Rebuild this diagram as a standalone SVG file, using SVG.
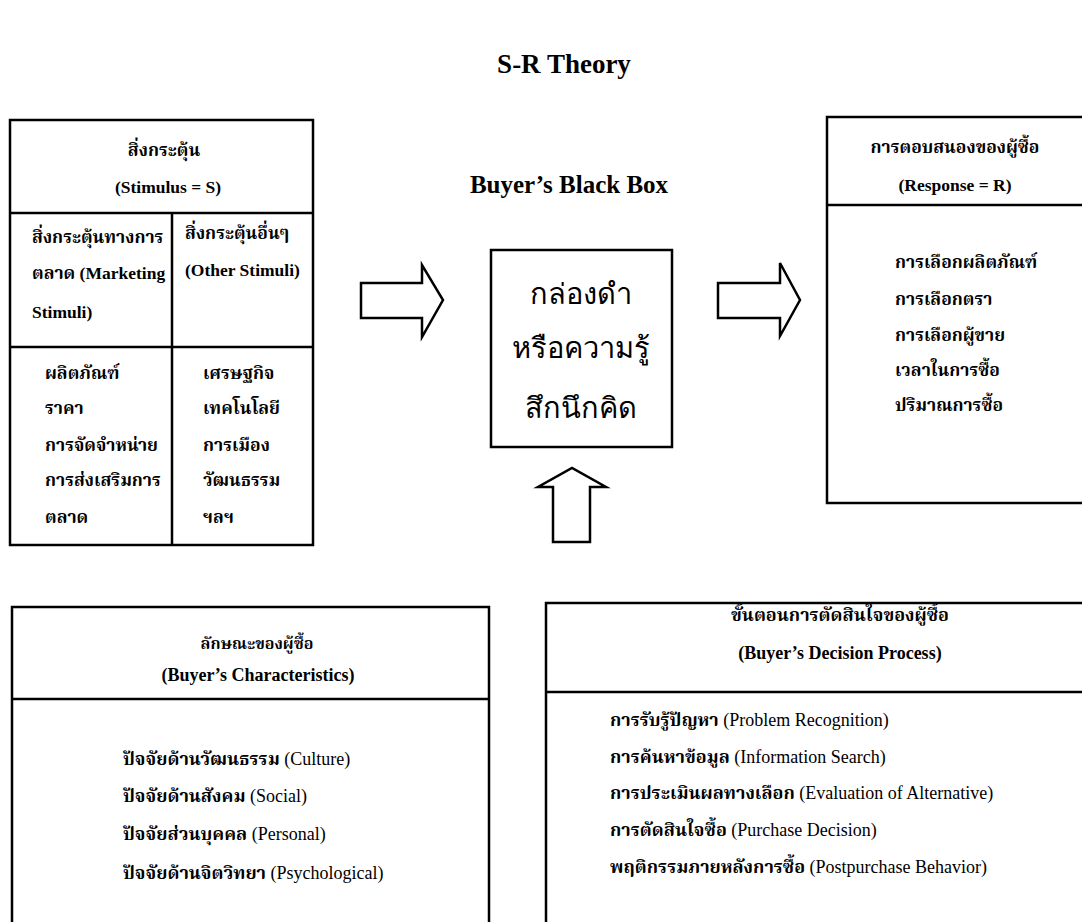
<svg xmlns="http://www.w3.org/2000/svg" width="1082" height="922" viewBox="0 0 1082 922">
<style>
text{font-family:"Liberation Serif","Noto Serif Thai","Noto Sans Thai","DejaVu Sans",serif;fill:#000;}
.t{font-size:17.5px;font-weight:bold;}
.s{font-size:18px;font-weight:bold;}
.r{font-weight:normal;}
.c{text-anchor:middle;}
.h{font-weight:bold;text-anchor:middle;}
.big{font-size:29px;text-anchor:middle;font-family:"DejaVu Sans","Noto Sans",sans-serif;}
.box{fill:none;stroke:#000;stroke-width:2.5;}
.ln{stroke:#000;stroke-width:2.5;}
.arr{fill:#fff;stroke:#000;stroke-width:2.5;stroke-linejoin:miter;}
</style>
<rect width="1082" height="922" fill="#fff"/>
<text class="h" x="564" y="73" font-size="27">S-R Theory</text>
<text class="h" x="569" y="193" font-size="25">Buyer’s Black Box</text>

<g id="stimulus">
<rect class="box" x="10" y="120" width="303" height="425"/>
<line class="ln" x1="10" y1="213" x2="313" y2="213"/>
<line class="ln" x1="172" y1="213" x2="172" y2="545"/>
<line class="ln" x1="10" y1="347" x2="313" y2="347"/>
<text class="t c" x="164" y="156">สิ่งกระตุ้น</text>
<text class="t c" x="168" y="193">(Stimulus = S)</text>
<text class="t" x="32" y="243">สิ่งกระตุ้นทางการ</text>
<text class="t" x="32" y="279">ตลาด (Marketing</text>
<text class="t" x="32" y="318">Stimuli)</text>
<text class="t" x="185" y="239">สิ่งกระตุ้นอื่นๆ</text>
<text class="t" x="185" y="276">(Other Stimuli)</text>
<text class="t" x="45" y="379">ผลิตภัณฑ์</text>
<text class="t" x="45" y="414">ราคา</text>
<text class="t" x="45" y="451">การจัดจำหน่าย</text>
<text class="t" x="45" y="486">การส่งเสริมการ</text>
<text class="t" x="45" y="523">ตลาด</text>
<text class="t" x="203" y="379">เศรษฐกิจ</text>
<text class="t" x="203" y="414">เทคโนโลยี</text>
<text class="t" x="203" y="451">การเมือง</text>
<text class="t" x="203" y="486">วัฒนธรรม</text>
<text class="t" x="203" y="523">ฯลฯ</text>
</g>

<g id="blackbox">
<rect class="box" x="491" y="250" width="181" height="197"/>
<text class="big" x="581" y="304">กล่องดำ</text>
<text class="big" x="581" y="358">หรือความรู้</text>
<text class="big" x="581" y="418">สึกนึกคิด</text>
</g>

<g id="response">
<rect class="box" x="827" y="117" width="270" height="386"/>
<line class="ln" x1="827" y1="205" x2="1082" y2="205"/>
<text class="t c" x="955" y="153">การตอบสนองของผู้ซื้อ</text>
<text class="t c" x="955" y="191">(Response = R)</text>
<text class="t" x="895" y="268">การเลือกผลิตภัณฑ์</text>
<text class="t" x="895" y="305">การเลือกตรา</text>
<text class="t" x="895" y="341">การเลือกผู้ขาย</text>
<text class="t" x="895" y="376">เวลาในการซื้อ</text>
<text class="t" x="895" y="411">ปริมาณการซื้อ</text>
</g>

<g id="characteristics">
<rect class="box" x="12" y="607" width="477" height="330"/>
<line class="ln" x1="12" y1="699" x2="489" y2="699"/>
<text class="c" x="257" y="649" font-size="16" font-weight="bold">ลักษณะของผู้ซื้อ</text>
<text class="s c" x="258" y="681" font-size="18.5">(Buyer’s Characteristics)</text>
<text class="s" x="123" y="765">ปัจจัยด้านวัฒนธรรม <tspan class="r">(Culture)</tspan></text>
<text class="s" x="123" y="802">ปัจจัยด้านสังคม <tspan class="r">(Social)</tspan></text>
<text class="s" x="123" y="840">ปัจจัยส่วนบุคคล <tspan class="r">(Personal)</tspan></text>
<text class="s" x="123" y="879">ปัจจัยด้านจิตวิทยา <tspan class="r">(Psychological)</tspan></text>
</g>

<g id="decision">
<rect class="box" x="546" y="603" width="550" height="334"/>
<line class="ln" x1="546" y1="692" x2="1082" y2="692"/>
<text class="c" x="840" y="621" font-size="18" font-weight="bold">ขั้นตอนการตัดสินใจของผู้ซื้อ</text>
<text class="s c" x="840" y="659" font-size="18">(Buyer’s Decision Process)</text>
<text class="s" x="610" y="726">การรับรู้ปัญหา <tspan class="r">(Problem Recognition)</tspan></text>
<text class="s" x="610" y="763">การค้นหาข้อมูล <tspan class="r">(Information Search)</tspan></text>
<text class="s" x="610" y="799">การประเมินผลทางเลือก <tspan class="r">(Evaluation of Alternative)</tspan></text>
<text class="s" x="610" y="836">การตัดสินใจซื้อ <tspan class="r">(Purchase Decision)</tspan></text>
<text class="s" x="610" y="873">พฤติกรรมภายหลังการซื้อ <tspan class="r">(Postpurchase Behavior)</tspan></text>
</g>

<g id="connectors">
<polygon class="arr" points="361,283 422,283 422,265 443,300 422,337 422,318 361,318"/>
<polygon class="arr" points="718,283 780,283 780,263 800,300 780,336 780,318 718,318"/>
<polygon class="arr" points="553,542 553,487 538,487 572,468 606,487 590,487 590,542"/>
</g>
</svg>
